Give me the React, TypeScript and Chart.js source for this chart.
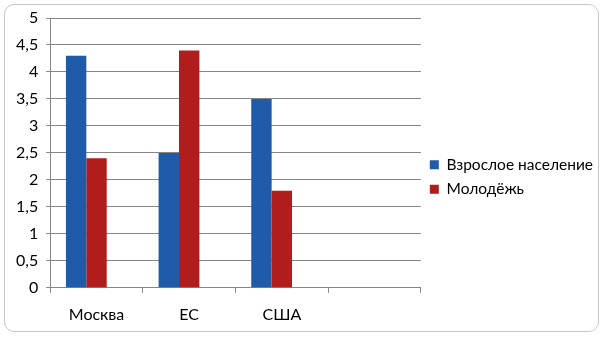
import React, { useEffect, useRef } from "react";
import { Chart, registerables } from "chart.js";

Chart.register(...registerables);

const categories = ["Москва", "ЕС", "США", ""];
const adults = [4.3, 2.5, 3.5, null];
const youth = [2.4, 4.4, 1.8, null];
const emptySeries = [null, null, null, null];
const seriesNames = ["Взрослое население", "Молодёжь", ""];
const yMin = 0;
const yMax = 5;
const yStep = 0.5;

const FONT = "Lato, 'Open Sans', sans-serif";

export default function App() {
  const ref = useRef<HTMLCanvasElement | null>(null);

  useEffect(() => {
    if (!ref.current) return;
    const chart = new Chart(ref.current, {
      type: "bar",
      data: {
        labels: categories,
        datasets: [
          { label: seriesNames[0], data: adults, backgroundColor: "#1F5BA9", borderWidth: 0 },
          { label: seriesNames[1], data: youth, backgroundColor: "#B11C1C", borderWidth: 0 },
          { label: seriesNames[2], data: emptySeries, backgroundColor: "#7F7F7F", borderWidth: 0 },
        ],
      },
      options: {
        animation: false,
        responsive: false,
        maintainAspectRatio: false,
        layout: { padding: { left: 8, right: 6, top: 18, bottom: 4 } },
        plugins: {
          tooltip: { enabled: false },
          legend: {
            position: "right",
            maxWidth: 220,
            labels: {
              boxWidth: 9,
              boxHeight: 9,
              padding: 9,
              color: "#000",
              font: { family: FONT, size: 15.5 },
              filter: (item: any) => item.text !== "",
            },
          },
        },
        datasets: { bar: { barPercentage: 1, categoryPercentage: 0.66 } },
        scales: {
          x: {
            grid: { drawOnChartArea: false, drawTicks: true, tickLength: 5, color: "#868686", offset: true },
            border: { color: "#868686", width: 1 },
            ticks: { color: "#000", padding: 12, font: { family: FONT, size: 16 }, maxRotation: 0 },
          },
          y: {
            min: yMin,
            max: yMax,
            grid: { color: "#868686", tickLength: 4 },
            border: { color: "#868686", width: 1 },
            ticks: {
              stepSize: yStep,
              color: "#000",
              padding: 8,
              font: { family: FONT, size: 16 },
              callback: (v: any) => String(v).replace(".", ","),
            },
          },
        },
      },
    });
    return () => chart.destroy();
  }, []);

  return (
    <div style={{ position: "fixed", left: 0, top: 0, width: 609, height: 340, background: "#fff" }}>
      <div
        style={{
          position: "absolute",
          left: 4,
          top: 4,
          width: 595,
          height: 328,
          border: "1px solid #C8C8C8",
          borderRadius: 10,
          boxSizing: "border-box",
        }}
      />
      <canvas ref={ref} width={609} height={340} style={{ position: "absolute", left: 0, top: 0 }} />
    </div>
  );
}
